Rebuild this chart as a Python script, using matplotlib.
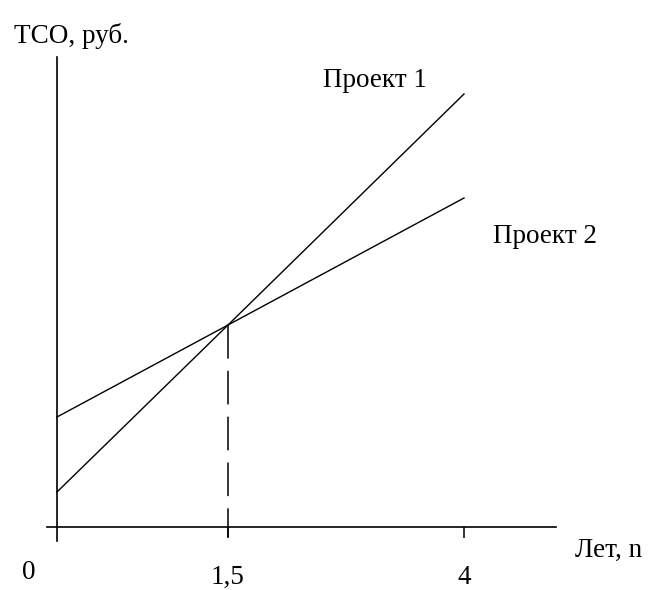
import matplotlib
matplotlib.use("Agg")
import matplotlib.pyplot as plt
import numpy as np

plt.rcParams['font.family'] = ['Liberation Serif', 'DejaVu Serif']

# years (schematic axis: 0 .. 1,5 .. 4)
years = [0, 1.5, 4]
year_labels = ["0", "1,5", "4"]

# TCO, arbitrary units
project1 = [0.35, 2.02, 4.33]
project2 = [1.10, 2.02, 3.29]

series_names = ["Проект 1", "Проект 2"]


# the drawing is not to scale on x: 0 -> 1,5 takes more room than 1,5 -> 4
def fwd(x):
    x = np.asarray(x, dtype=float)
    return np.where(x < 1.5, x * 114.0, 171.0 + (x - 1.5) * 94.4)


def inv(p):
    p = np.asarray(p, dtype=float)
    return np.where(p < 171.0, p / 114.0, 1.5 + (p - 171.0) / 94.4)


fig = plt.figure(figsize=(6.49, 5.90), dpi=100)
ax = fig.add_axes([0, 0, 1, 1])
ax.set_xscale('function', functions=(fwd, inv))
ax.set_xlim(-0.5, 5.9597)
ax.set_ylim(-0.63, 5.27)

ax.plot(years, project1, color='black', lw=1.0)
ax.plot(years, project2, color='black', lw=1.0)

# break-even point
ax.plot([years[1], years[1]], [project1[1], -0.10], color='black', lw=1.1,
        linestyle=(0, (22, 8)))

# axes drawn as spines through zero
for s in ['top', 'right']:
    ax.spines[s].set_visible(False)
ax.spines['left'].set_position(('data', 0))
ax.spines['bottom'].set_position(('data', 0))
ax.spines['left'].set_bounds(-0.14, 4.70)
ax.spines['bottom'].set_bounds(-0.088, 4.975)
ax.spines['left'].set_linewidth(1.2)
ax.spines['bottom'].set_linewidth(1.2)

ax.set_yticks([])
ax.set_xticks(years[1:])
ax.set_xticklabels(year_labels[1:], fontsize=19.5)
ax.tick_params(axis='x', direction='out', length=8, width=1.1, pad=19)

fig.text(22 / 649, 1 - 579 / 590, year_labels[0], fontsize=19.5, va='baseline')
fig.text(14 / 649, 1 - 43 / 590, "TCO, руб.", fontsize=19.5, va='baseline')
fig.text(575 / 649, 1 - 557 / 590, "Лет, n", fontsize=19.5, va='baseline')
fig.text(323 / 649, 1 - 87 / 590, series_names[0], fontsize=19.5, va='baseline')
fig.text(493 / 649, 1 - 243 / 590, series_names[1], fontsize=19.5, va='baseline')

fig.savefig("out.png", dpi=100)
